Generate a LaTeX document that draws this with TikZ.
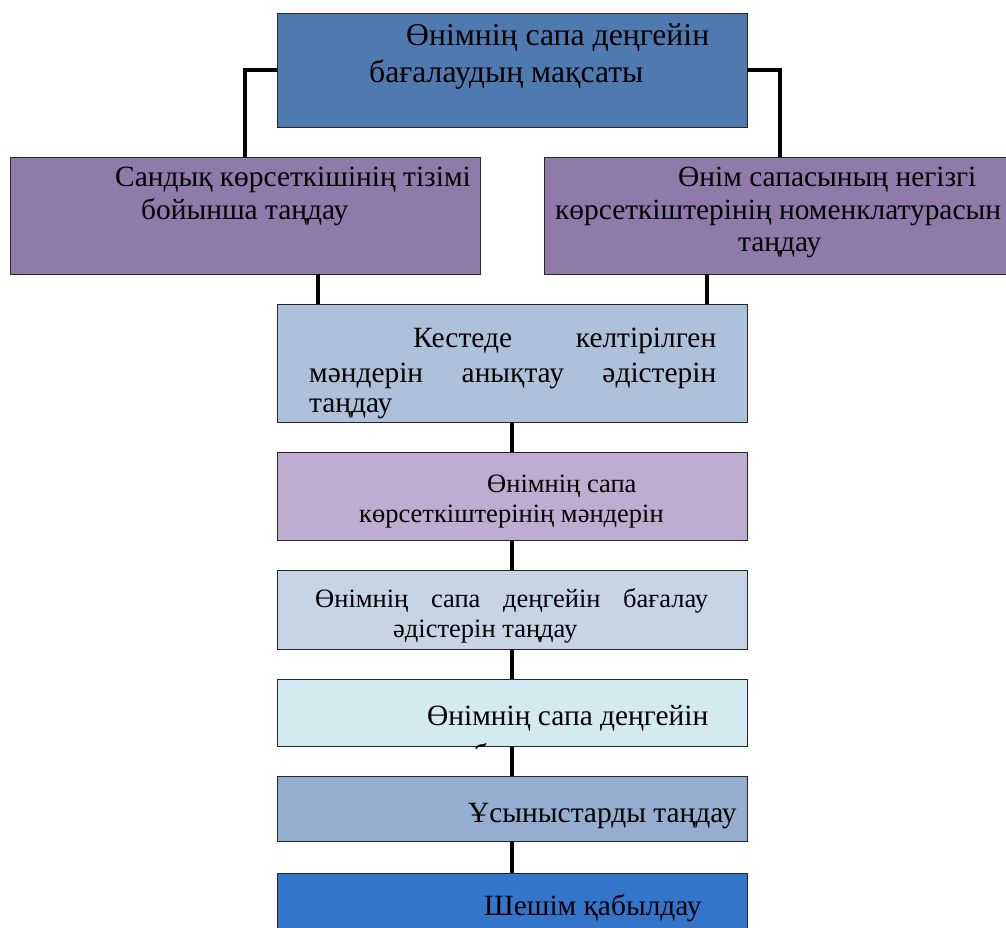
\documentclass[tikz,border=0pt]{standalone}
\usepackage{fontspec}
\setmainfont{Liberation Serif}
\usetikzlibrary{calc}
\definecolor{ctop}{HTML}{4F7AAF}
\definecolor{cpurple}{HTML}{8F7AAA}
\definecolor{ckes}{HTML}{ADC1DA}
\definecolor{cfive}{HTML}{BDAED1}
\definecolor{csix}{HTML}{C6D4E6}
\definecolor{cseven}{HTML}{D2EAF0}
\definecolor{ceight}{HTML}{95AED0}
\definecolor{cnine}{HTML}{3475CC}
\tikzset{
  box/.style={draw=black!85, line width=1pt, rectangle, anchor=north west, inner sep=0pt, outer sep=0pt},
  conn/.style={line width=4pt, black},
  txtl/.style={anchor=base west, inner sep=0pt, font=\fontsize{31.7}{37}\selectfont},
  txt/.style={anchor=base west, inner sep=0pt, font=\fontsize{29.4}{34}\selectfont},
  txts/.style={anchor=base west, inner sep=0pt, font=\fontsize{26.5}{30}\selectfont}
}
\begin{document}
\begin{tikzpicture}[x=1pt,y=-1pt]
\useasboundingbox (0,0) rectangle (1006,927);
\clip (0,0) rectangle (1006,927);
% boxes
\node[box, fill=ctop, minimum width=470pt, minimum height=114pt] (top) at (277,13) {};
\node[box, fill=cpurple, minimum width=470pt, minimum height=117pt] (lbox) at (10,157) {};
\node[box, fill=cpurple, minimum width=472pt, minimum height=117pt] (rbox) at (544,157) {};
\node[box, fill=ckes, minimum width=470pt, minimum height=118pt] (kes) at (277,304) {};
\node[box, fill=cfive, minimum width=470pt, minimum height=88pt] (b5) at (277,452) {};
\node[box, fill=csix, minimum width=470pt, minimum height=79pt] (b6) at (277,570) {};
\node[box, fill=cseven, minimum width=470pt, minimum height=67pt] (b7) at (277,679) {};
\node[box, fill=ceight, minimum width=470pt, minimum height=65pt] (b8) at (277,776) {};
\node[box, fill=cnine, minimum width=470pt, minimum height=80pt] (b9) at (277,873) {};
% connectors
\draw[conn] (top.west) -| (lbox.north);
\draw[conn] (top.east) -| (rbox.north);
\coordinate (kl) at ($(kes.north west)+(41,0)$);
\coordinate (kr) at ($(kes.north west)+(430,0)$);
\draw[conn] (kl) -- (kl |- lbox.south);
\draw[conn] (kr) -- (kr |- rbox.south);
\draw[conn] (kes.south) -- (b5.north);
\draw[conn] (b5.south) -- (b6.north);
\draw[conn] (b6.south) -- (b7.north);
\draw[conn] (b7.south) -- (b8.north);
\draw[conn] (b8.south) -- (b9.north);
% texts
\node[txtl] (t1a) at (406,45) {Өнімнің сапа деңгейін};
\node[txtl] (t1b) at (369,82) {бағалаудың мақсаты};
\node[txt] (t2a) at (115,186) {Сандық көрсеткішінің тізімі};
\node[txt] (t2b) at (141,219) {бойынша таңдау};
\node[txt] (t3a) at (678,186) {Өнім сапасының негізгі};
\node[txt] (t3b) at (555,219) {көрсеткіштерінің номенклатурасын};
\node[txt] (t3c) at (738,251) {таңдау};
\node[txt] (t4a) at (413,347) {\makebox[303pt][l]{Кестеде\hfill келтірілген}};
\node[txt] (t4b) at (309,382) {\makebox[407pt][l]{мәндерін\hfill анықтау\hfill әдістерін}};
\node[txt] (t4c) at (309,412) {таңдау};
\node[txts] (t5a) at (487,492) {Өнімнің сапа};
\node[txts] (t5b) at (359,522) {көрсеткіштерінің мәндерін};
\node[txts] (t6a) at (315,607) {\makebox[393pt][l]{Өнімнің\hfill сапа\hfill деңгейін\hfill бағалау}};
\node[txts] (t6b) at (393,637) {әдістерін таңдау};
\node[txt] (t7a) at (427,725) {Өнімнің сапа деңгейін};
\begin{scope}
\clip (277,679) rectangle (747,748);
\node[txt] (t7b) at (473,764) {бағалау};
\end{scope}
\node[txt] (t8a) at (468,822) {Ұсыныстарды таңдау};
\node[txt] (t9a) at (484,915) {Шешім қабылдау};
\end{tikzpicture}
\end{document}
